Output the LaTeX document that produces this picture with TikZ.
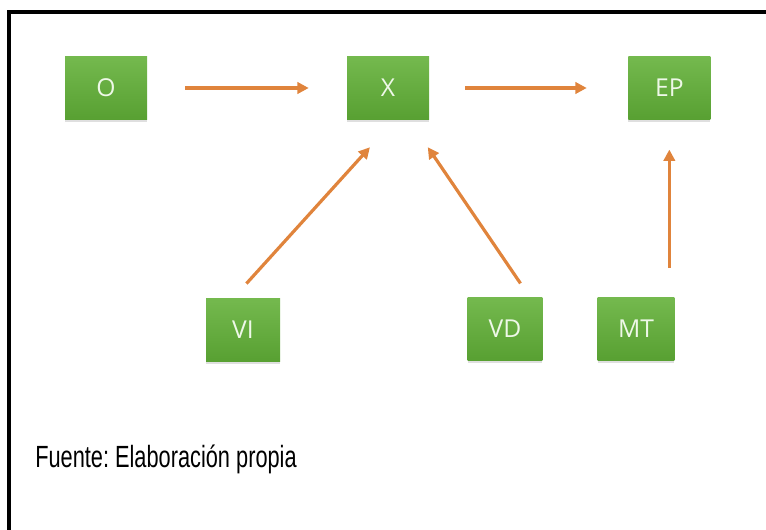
\documentclass[tikz,border=0pt]{standalone}
\usepackage{graphicx}
\usepackage{fontspec}
\setmainfont{Liberation Sans}
\newfontfamily\boxfont{Open Sans}
\usetikzlibrary{arrows.meta,shadows}
\definecolor{boxtop}{HTML}{74B94E}
\definecolor{boxbot}{HTML}{58A032}
\definecolor{boxtext}{HTML}{EEF8E8}
\definecolor{arrcol}{HTML}{E0843C}
\frenchspacing

\begin{document}
\begin{tikzpicture}[x=0.75pt, y=-0.75pt]
\tikzstyle{box}=[minimum width=61.5pt, minimum height=47pt, inner sep=0pt, top color=boxtop, bottom color=boxbot, text=boxtext, font=\boxfont\fontsize{18.5}{22}\selectfont, drop shadow={opacity=0.25, shadow xshift=0pt, shadow yshift=-2pt}]
\tikzstyle{arr}=[-{Triangle[length=8.5pt, width=8.5pt]}, draw=arrcol, line width=2.4pt]
	\useasboundingbox (0,0) rectangle (766,530);
	\draw[line width=3pt] (9,540) -- (9,12.5) -- (780,12.5);

	\node[box] (O) at (106,88) {O};
	\node[box, right of=O, node distance=211.5pt] (X) {X};
	\node[box, right of=X, node distance=211pt] (EP) {EP};
	\node[box, minimum width=55.5pt] (VI) at (243,330) {VI};
	\node[box, minimum width=56pt] (VD) at (505,329) {VD};
	\node[box, minimum width=57.5pt] (MT) at (636,329) {MT};
	\node[anchor=base west, inner sep=0pt] (src) at (35,467) {\fontsize{23}{28}\selectfont\scalebox{0.71}[1]{Fuente: Elaboración propia}};

	\draw[arr, shorten <=28.5pt, shorten >=28.5pt] (O) -- (X) ;
	\draw[arr, shorten <=27pt, shorten >=31pt] (X) -- (EP) ;
	\draw[arr, shorten <=15pt, shorten >=28pt] ([xshift=-7.5pt]VI.north) -- ([xshift=5.25pt]X.south) ;
	\draw[arr, shorten <=12.7pt, shorten >=25pt] ([xshift=18.75pt]VD.north) -- ([xshift=15.75pt]X.south) ;
	\draw[arr, shorten <=22pt, shorten >=22.5pt] (MT.north -| EP.south) -- (EP.south) ;
\end{tikzpicture}
\end{document}
